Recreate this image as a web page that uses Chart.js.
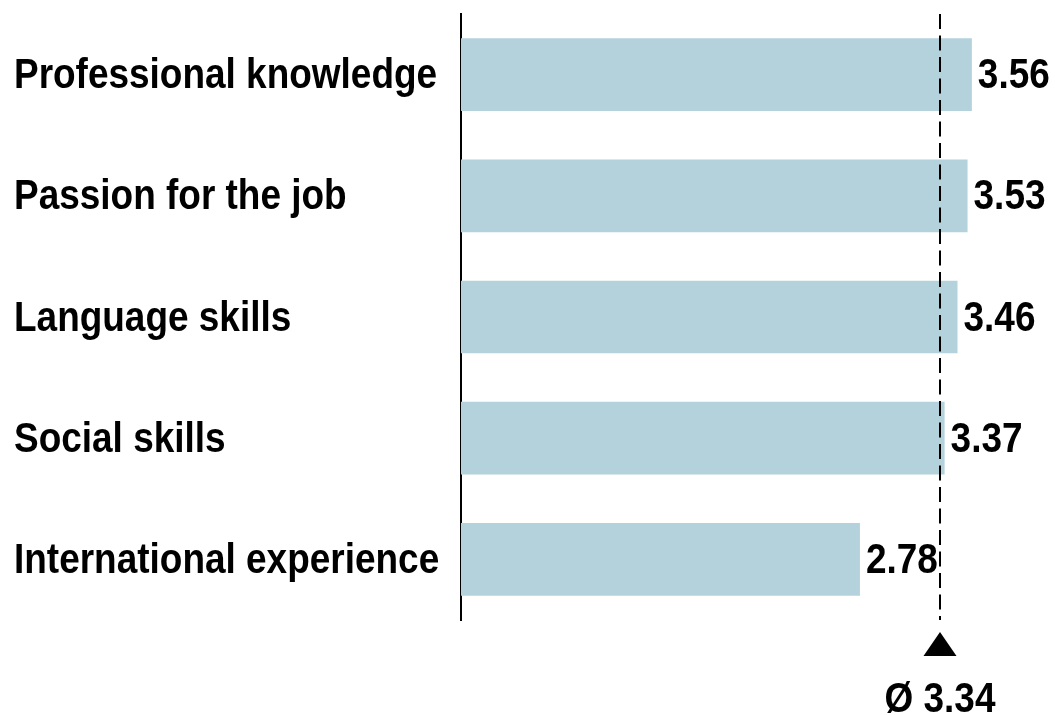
<!DOCTYPE html>
<html>
<head>
<meta charset="utf-8">
<script src="https://cdn.jsdelivr.net/npm/chart.js@4.4.1/dist/chart.umd.min.js"></script>
<style>
  html, body { margin: 0; padding: 0; background: #fff; }
  canvas { display: block; }
</style>
</head>
<body>
<canvas id="skillsChart" width="1055" height="715"></canvas>
<script>
const skills = ['Professional knowledge', 'Passion for the job', 'Language skills', 'Social skills', 'International experience'];
const ratings = [3.56, 3.53, 3.46, 3.37, 2.78];
const average = 3.34;

const FONT = "bold 42px 'Liberation Sans', Arial, sans-serif";
const NARROW = 0.88;   // squeeze factor, gives an Arial Narrow look
const BAR_COLOR = '#b3d2dc';

// draw text horizontally condensed; align is 'left' or 'center'
function narrowText(ctx, text, x, y, align) {
    ctx.save();
    ctx.font = FONT;
    ctx.fillStyle = '#000';
    ctx.textBaseline = 'middle';
    ctx.textAlign = align;
    ctx.translate(x, y);
    ctx.scale(NARROW, 1);
    ctx.fillText(text, 0, 0);
    ctx.restore();
}

// category names, left aligned in the y axis box
const categoryLabels = {
    id: 'categoryLabels',
    afterDraw(chart) {
        const yScale = chart.scales.y;
        yScale.ticks.forEach((tick, i) => {
            narrowText(chart.ctx, chart.data.labels[i], yScale.left, yScale.getPixelForTick(i) + 2, 'left');
        });
    }
};

// rating printed just past the end of each bar
const valueLabels = {
    id: 'valueLabels',
    afterDatasetsDraw(chart) {
        const meta = chart.getDatasetMeta(0);
        meta.data.forEach((bar, i) => {
            narrowText(chart.ctx, ratings[i].toFixed(2), bar.x + 6, bar.y + 2, 'left');
        });
    }
};

// dashed mean line with triangle marker and caption underneath
const averageMarker = {
    id: 'averageMarker',
    afterDraw(chart) {
        const ctx = chart.ctx;
        const area = chart.chartArea;
        const x = Math.round(chart.scales.x.getPixelForValue(average));
        ctx.save();
        ctx.strokeStyle = '#000';
        ctx.lineWidth = 2;
        ctx.setLineDash([15, 6.5]);
        ctx.beginPath();
        ctx.moveTo(x, area.top);
        ctx.lineTo(x, area.bottom);
        ctx.stroke();
        ctx.setLineDash([]);

        ctx.fillStyle = '#000';
        ctx.beginPath();
        ctx.moveTo(x, area.bottom + 12);
        ctx.lineTo(x + 16.5, area.bottom + 36);
        ctx.lineTo(x - 16.5, area.bottom + 36);
        ctx.closePath();
        ctx.fill();
        ctx.restore();

        narrowText(ctx, 'Ø ' + average.toFixed(2), x, area.bottom + 80, 'center');
    }
};

new Chart(document.getElementById('skillsChart'), {
    type: 'bar',
    data: {
        labels: skills,
        datasets: [{
            data: ratings,
            backgroundColor: BAR_COLOR,
            borderWidth: 0,
            barPercentage: 0.6,
            categoryPercentage: 1.0
        }]
    },
    options: {
        indexAxis: 'y',
        responsive: false,
        animation: false,
        layout: { padding: { left: 14, right: 20, top: 14, bottom: 95 } },
        plugins: {
            legend: { display: false },
            tooltip: { enabled: false }
        },
        scales: {
            x: {
                display: false,
                min: 0,
                max: 4
            },
            y: {
                z: 1,   // axis line sits on top of the bars
                grid: { display: false, drawTicks: false },
                border: { display: true, color: '#000', width: 2 },
                ticks: { display: false },
                afterFit(scale) { scale.width = 447; }
            }
        }
    },
    plugins: [categoryLabels, valueLabels, averageMarker]
});
</script>
</body>
</html>
